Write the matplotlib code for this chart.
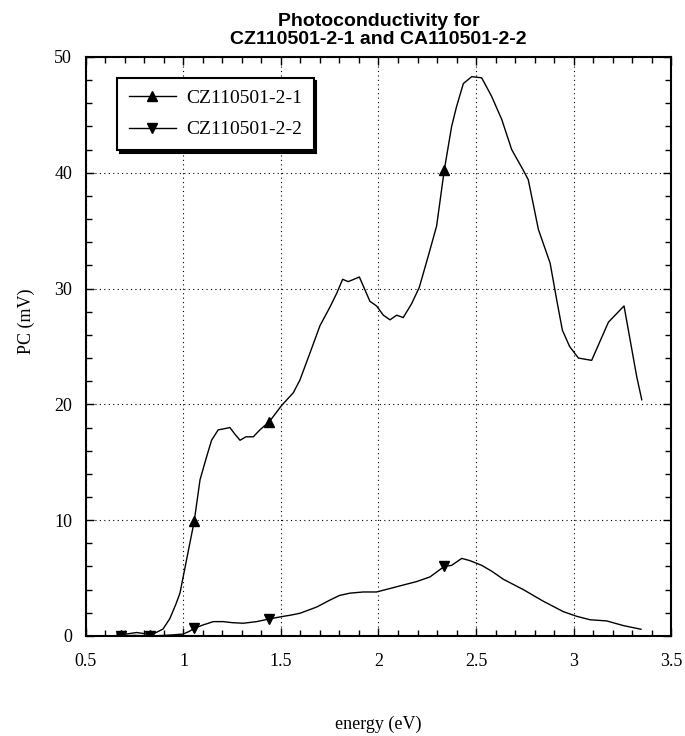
import numpy as np
import matplotlib
matplotlib.use("Agg")
import matplotlib.pyplot as plt
from matplotlib.ticker import MultipleLocator, FuncFormatter

# Photoconductivity spectra (energy in eV, PC in mV)
energy_1 = [0.66, 0.68, 0.72, 0.76, 0.80, 0.83, 0.86, 0.895, 0.93, 0.96, 0.982, 1.016,
            1.055, 1.085, 1.119, 1.144, 1.178, 1.21, 1.238, 1.265, 1.29, 1.32, 1.358,
            1.392, 1.44, 1.503, 1.563, 1.597, 1.65, 1.70, 1.751, 1.786, 1.816, 1.845,
            1.902, 1.956, 1.99, 2.025, 2.059, 2.093, 2.127, 2.17, 2.209, 2.255, 2.298,
            2.337, 2.375, 2.40, 2.435, 2.478, 2.529, 2.58, 2.632, 2.683, 2.743, 2.768,
            2.82, 2.88, 2.914, 2.943, 2.98, 3.025, 3.093, 3.179, 3.259, 3.324, 3.35]
pc_1 = [0.2, 0.1, 0.2, 0.3, 0.2, 0.1, 0.3, 0.6, 1.5, 2.7, 3.7, 6.6,
        9.9, 13.5, 15.5, 16.9, 17.8, 17.9, 18.0, 17.4, 16.9, 17.2, 17.2,
        17.8, 18.5, 19.9, 21.0, 22.1, 24.5, 26.8, 28.4, 29.6, 30.8, 30.6,
        31.0, 28.9, 28.5, 27.7, 27.3, 27.7, 27.5, 28.7, 30.1, 32.8, 35.4,
        40.2, 44.0, 45.7, 47.7, 48.3, 48.2, 46.6, 44.6, 42.0, 40.2, 39.4,
        35.1, 32.2, 29.0, 26.4, 25.0, 24.0, 23.8, 27.1, 28.5, 22.4, 20.4]

energy_2 = [0.66, 0.68, 0.75, 0.83, 0.90, 0.95, 0.999, 1.03, 1.055, 1.10, 1.153, 1.204,
            1.25, 1.307, 1.375, 1.44, 1.503, 1.55, 1.597, 1.683, 1.751, 1.80, 1.854,
            1.922, 1.99, 2.059, 2.127, 2.196, 2.264, 2.337, 2.375, 2.427, 2.47, 2.529,
            2.58, 2.64, 2.743, 2.845, 2.948, 3.016, 3.085, 3.17, 3.255, 3.346]
pc_2 = [0.1, 0.0, 0.05, 0.0, 0.05, 0.1, 0.17, 0.4, 0.66, 0.95, 1.24, 1.24,
        1.15, 1.1, 1.24, 1.47, 1.67, 1.8, 1.96, 2.5, 3.1, 3.5, 3.7,
        3.8, 3.8, 4.1, 4.4, 4.7, 5.1, 6.0, 6.1, 6.7, 6.5, 6.1,
        5.6, 4.9, 4.0, 3.0, 2.1, 1.7, 1.4, 1.3, 0.9, 0.58]

marker_energies = [0.68, 0.83, 1.055, 1.44, 2.337]

labels = ["CZ110501-2-1", "CZ110501-2-2"]
title = "Photoconductivity for\nCZ110501-2-1 and CA110501-2-2"
xlabel = "energy (eV)"
ylabel = "PC (mV)"

serif = ["Liberation Serif", "DejaVu Serif"]

fig = plt.figure(figsize=(6.85, 7.36), dpi=100)
ax = fig.add_axes([0.1255, 0.1359, 0.8541, 0.7867])

mk1 = [i for i, e in enumerate(energy_1) if e in marker_energies]
mk2 = [i for i, e in enumerate(energy_2) if e in marker_energies]

ax.plot(energy_1, pc_1, color="black", lw=1.0, marker="^", markersize=7.5,
        markevery=mk1, label=labels[0], zorder=3)
ax.plot(energy_2, pc_2, color="black", lw=1.0, marker="v", markersize=7.5,
        markevery=mk2, label=labels[1], zorder=3)

ax.set_xlim(0.5, 3.5)
ax.set_ylim(0, 50)
ax.xaxis.set_major_locator(MultipleLocator(0.5))
ax.xaxis.set_minor_locator(MultipleLocator(0.1))
ax.yaxis.set_major_locator(MultipleLocator(10))
ax.yaxis.set_minor_locator(MultipleLocator(2))
ax.xaxis.set_major_formatter(FuncFormatter(lambda v, p: f"{v:g}"))
ax.yaxis.set_major_formatter(FuncFormatter(lambda v, p: f"{v:g}"))

ax.tick_params(which="both", direction="in", top=True, right=True,
               color="black", width=1.0)
ax.tick_params(which="major", length=6)
ax.tick_params(which="minor", length=4)
ax.tick_params(axis="x", which="major", pad=12)
ax.tick_params(axis="y", which="major", pad=10)
for lab in ax.get_xticklabels() + ax.get_yticklabels():
    lab.set_family(serif)
    lab.set_fontsize(13)

for sp in ax.spines.values():
    sp.set_linewidth(1.5)
    sp.set_color("black")

ax.grid(True, which="major", linestyle=(0, (1, 3)), color="black", lw=0.8)

ax.set_xlabel(xlabel, family=serif, fontsize=13, labelpad=33)
ax.set_ylabel(ylabel, family=serif, fontsize=13)
ax.yaxis.set_label_coords(-0.087, 0.544)
ax.set_title(title, family=["Liberation Sans", "DejaVu Sans"], fontweight="bold",
             fontsize=14, linespacing=1.15, pad=9)

leg = ax.legend(loc="upper left", bbox_to_anchor=(0.053, 0.964), borderaxespad=0,
                prop={"family": serif, "size": 14}, fancybox=False,
                shadow={"color": "black", "alpha": 1.0},
                handlelength=2.45, handletextpad=0.5, borderpad=0.6,
                labelspacing=0.7)
leg.get_frame().set_edgecolor("black")
leg.get_frame().set_linewidth(1.5)

fig.savefig("out.png", dpi=100)
